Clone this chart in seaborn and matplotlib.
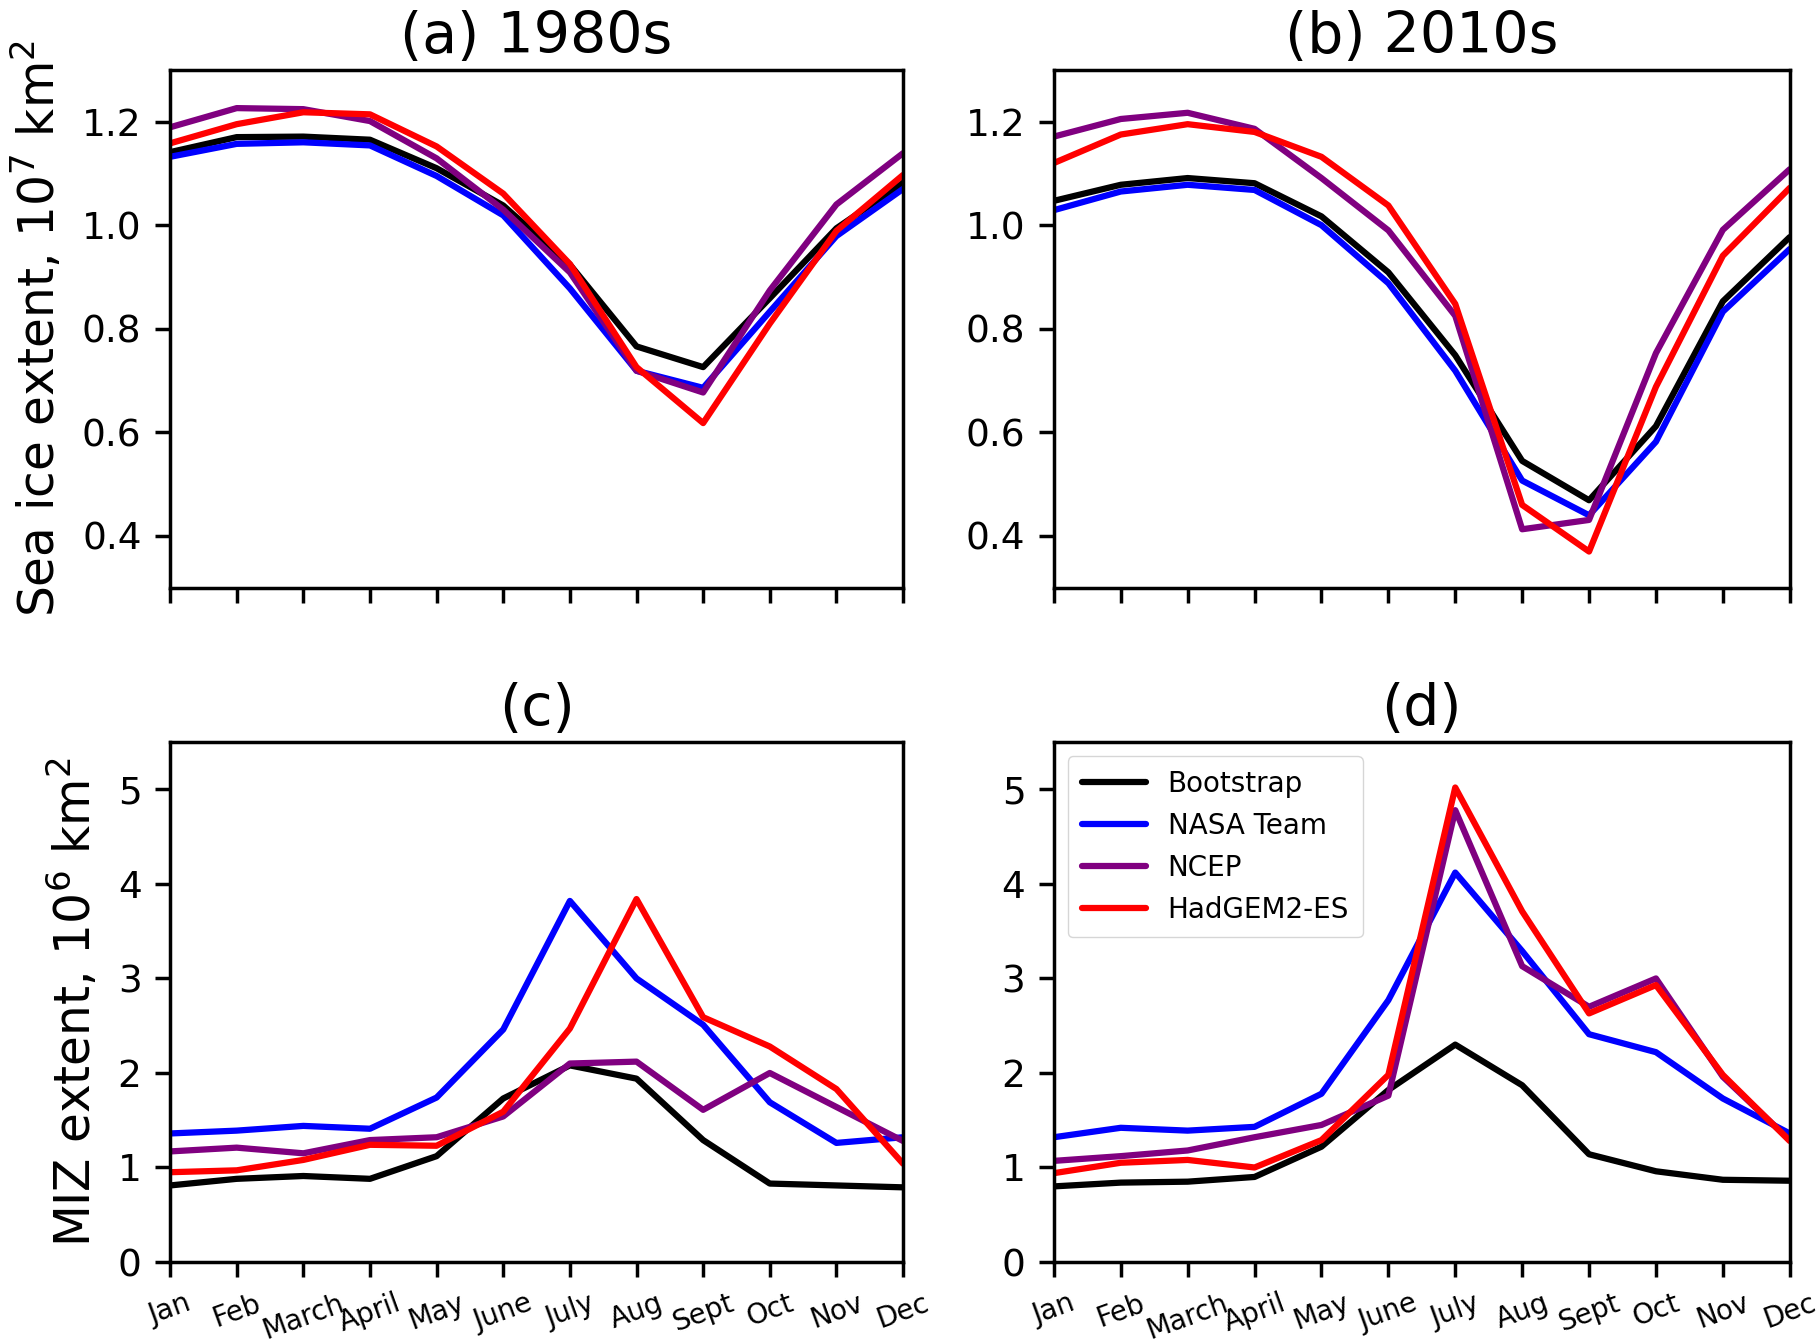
import numpy as np
import pandas as pd
import matplotlib
matplotlib.use("Agg")
import matplotlib.pyplot as plt
import seaborn as sns

months = ["Jan", "Feb", "March", "April", "May", "June", "July", "Aug",
          "Sept", "Oct", "Nov", "Dec"]
series_names = ["Bootstrap", "NASA Team", "NCEP", "HadGEM2-ES"]
series_colors = ["black", "blue", "purple", "red"]

# (a) Sea ice extent 1980s, 10^7 km^2
sie80_bootstrap = [1.141, 1.170, 1.171, 1.165, 1.110, 1.038, 0.924, 0.766, 0.726, 0.859, 0.994, 1.082]
sie80_nasateam = [1.132, 1.157, 1.160, 1.154, 1.095, 1.019, 0.878, 0.719, 0.686, 0.833, 0.979, 1.070]
sie80_ncep = [1.189, 1.226, 1.224, 1.201, 1.129, 1.030, 0.909, 0.719, 0.677, 0.874, 1.040, 1.139]
sie80_hadgem = [1.158, 1.195, 1.218, 1.214, 1.152, 1.061, 0.925, 0.726, 0.618, 0.810, 0.989, 1.097]

# (b) Sea ice extent 2010s, 10^7 km^2
sie10_bootstrap = [1.047, 1.078, 1.091, 1.081, 1.017, 0.909, 0.749, 0.545, 0.469, 0.612, 0.853, 0.977]
sie10_nasateam = [1.029, 1.065, 1.078, 1.068, 1.000, 0.888, 0.719, 0.507, 0.440, 0.582, 0.833, 0.954]
sie10_ncep = [1.171, 1.205, 1.217, 1.186, 1.091, 0.990, 0.825, 0.413, 0.431, 0.753, 0.991, 1.108]
sie10_hadgem = [1.120, 1.175, 1.195, 1.180, 1.132, 1.038, 0.848, 0.460, 0.370, 0.688, 0.941, 1.072]

# (c) MIZ extent 1980s, 10^6 km^2
miz80_bootstrap = [0.81, 0.88, 0.91, 0.88, 1.12, 1.73, 2.08, 1.94, 1.29, 0.83, 0.81, 0.79]
miz80_nasateam = [1.36, 1.39, 1.44, 1.41, 1.74, 2.46, 3.82, 3.00, 2.51, 1.69, 1.26, 1.32]
miz80_ncep = [1.17, 1.21, 1.15, 1.29, 1.32, 1.54, 2.10, 2.12, 1.61, 2.00, 1.64, 1.28]
miz80_hadgem = [0.95, 0.97, 1.08, 1.24, 1.23, 1.59, 2.47, 3.84, 2.59, 2.28, 1.83, 1.04]

# (d) MIZ extent 2010s, 10^6 km^2
miz10_bootstrap = [0.80, 0.84, 0.85, 0.90, 1.22, 1.82, 2.30, 1.87, 1.14, 0.96, 0.87, 0.86]
miz10_nasateam = [1.32, 1.42, 1.39, 1.43, 1.78, 2.77, 4.12, 3.29, 2.41, 2.22, 1.73, 1.36]
miz10_ncep = [1.07, 1.12, 1.18, 1.32, 1.45, 1.76, 4.78, 3.13, 2.70, 3.00, 1.96, 1.29]
miz10_hadgem = [0.94, 1.05, 1.08, 1.00, 1.29, 1.98, 5.02, 3.71, 2.63, 2.93, 1.98, 1.28]

panel_titles = ["(a) 1980s", "(b) 2010s", "(c)", "(d)"]
ylabel_top = "Sea ice extent, 10$^{7}$ km$^{2}$"
ylabel_bottom = "MIZ extent, 10$^{6}$ km$^{2}$"
yticks_top = [0.4, 0.6, 0.8, 1.0, 1.2]
yticks_bottom = [0, 1, 2, 3, 4, 5]

panels = [
    [sie80_bootstrap, sie80_nasateam, sie80_ncep, sie80_hadgem],
    [sie10_bootstrap, sie10_nasateam, sie10_ncep, sie10_hadgem],
    [miz80_bootstrap, miz80_nasateam, miz80_ncep, miz80_hadgem],
    [miz10_bootstrap, miz10_nasateam, miz10_ncep, miz10_hadgem],
]


def make_df(vals):
    rows = []
    for name, v in zip(series_names, vals):
        for i, y in enumerate(v):
            rows.append({"month": i, "value": y, "source": name})
    return pd.DataFrame(rows)


sns.set_style("ticks")
plt.rcParams["font.family"] = ["DejaVu Sans"]
plt.rcParams["axes.linewidth"] = 2.5
plt.rcParams["mathtext.default"] = "regular"
plt.rcParams["text.color"] = "black"
plt.rcParams["axes.labelcolor"] = "black"
plt.rcParams["xtick.color"] = "black"
plt.rcParams["ytick.color"] = "black"
plt.rcParams["axes.edgecolor"] = "black"

fig = plt.figure(figsize=(18.17, 13.42), dpi=100)
L1, R1, L2, R2 = 0.0936, 0.497, 0.580, 0.985
boxes = [
    [L1, 0.562, R1 - L1, 0.948 - 0.562],
    [L2, 0.562, R2 - L2, 0.948 - 0.562],
    [L1, 0.0596, R1 - L1, 0.447 - 0.0596],
    [L2, 0.0596, R2 - L2, 0.447 - 0.0596],
]
palette = dict(zip(series_names, series_colors))

for k in range(4):
    ax = fig.add_axes(boxes[k])
    df = make_df(panels[k])
    sns.lineplot(data=df, x="month", y="value", hue="source", hue_order=series_names,
                 palette=palette, linewidth=4.5, ax=ax, legend=(k == 3))
    ax.set_xlim(0, 11)
    ax.set_xticks(range(12))
    for s in ax.spines.values():
        s.set_linewidth(2.5)
        s.set_color("black")
    ax.tick_params(axis="both", which="major", length=10.5, width=2.5, pad=10,
                   labelsize=27, color="black", labelcolor="black")
    ax.set_xlabel("")
    ax.set_title(panel_titles[k], fontsize=41, pad=12, color="black")
    if k < 2:
        ax.set_ylim(0.3, 1.3)
        ax.set_yticks(yticks_top)
        ax.set_yticklabels([f"{t:.1f}" for t in yticks_top])
        ax.set_xticklabels([])
    else:
        ax.set_ylim(0, 5.5)
        ax.set_yticks(yticks_bottom)
        ax.set_xticklabels(months, rotation=20, ha="center", fontsize=20)
        ax.tick_params(axis="x", pad=9)
    if k == 0:
        ax.set_ylabel(ylabel_top, fontsize=35, labelpad=12, color="black")
    elif k == 2:
        ax.set_ylabel(ylabel_bottom, fontsize=35, labelpad=12, color="black")
    else:
        ax.set_ylabel("")
    if k == 3:
        leg = ax.legend(loc="upper left", fontsize=20, frameon=True, title=None,
                        handlelength=2.3, borderpad=0.5, labelspacing=0.5)
        for t in leg.get_texts():
            t.set_color("black")

fig.savefig("out.png", dpi=100)
